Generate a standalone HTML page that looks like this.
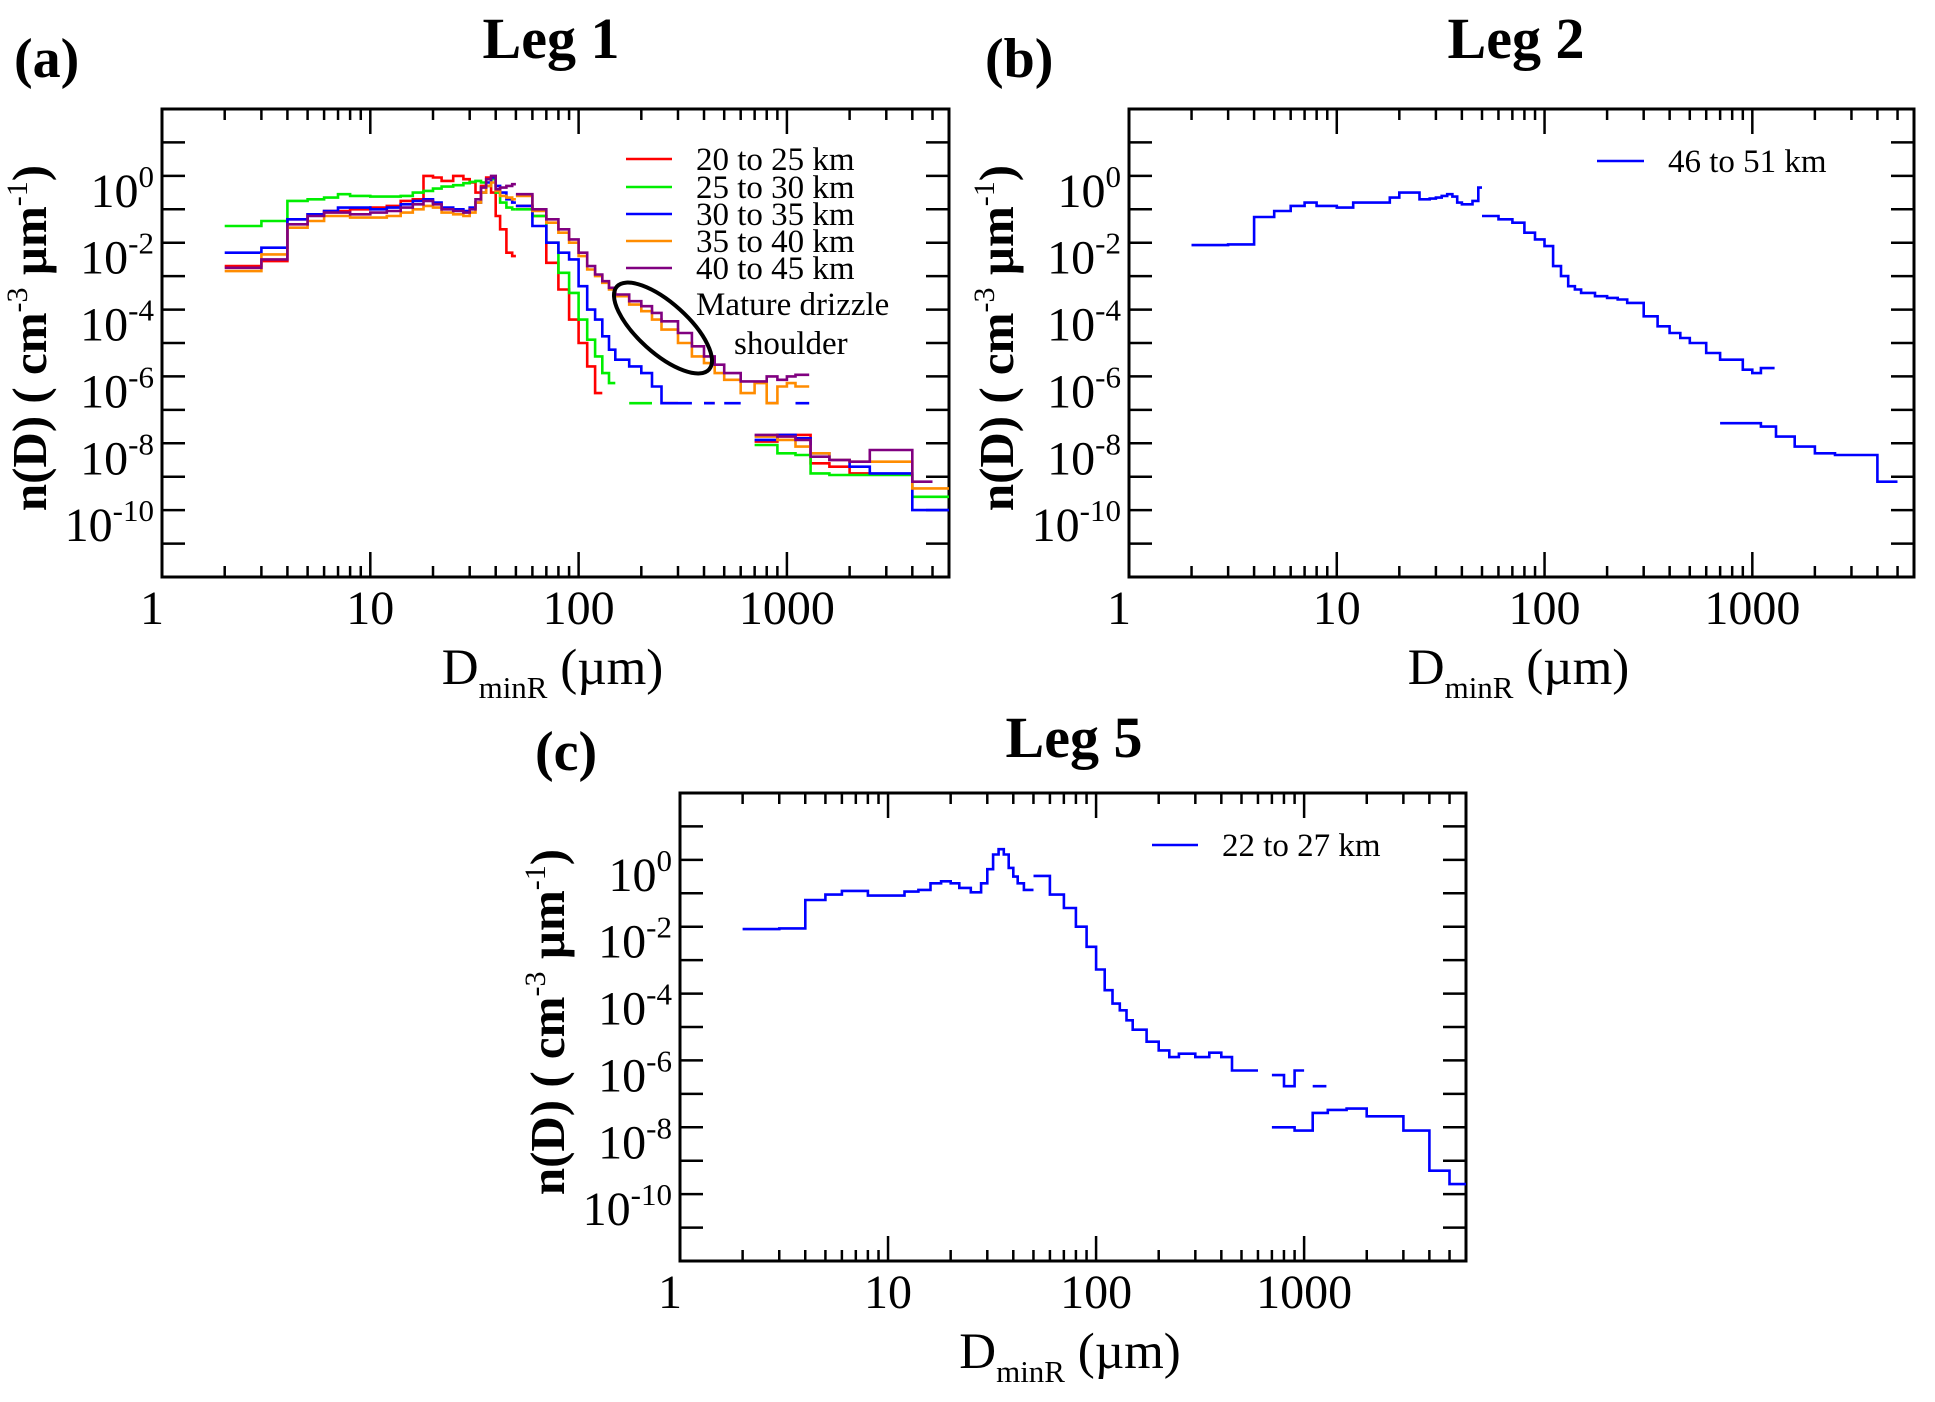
<!DOCTYPE html>
<html><head><meta charset="utf-8">
<style>
html,body{margin:0;padding:0;background:#fff;}
svg{display:block;font-family:"Liberation Serif",serif;}
</style></head>
<body>
<svg id="fig" width="1935" height="1402" viewBox="0 0 1935 1402" xmlns="http://www.w3.org/2000/svg"></svg>
<script>
// ---- bin edges (µm) ----
const cdpEdges = [2,3,4,5,6,7,8,10,12,14,16,18,20,22,25,28,30,32,34,36,38,40,42,45,48,50];
const twodsEdges = [50,60,70,80,90,100,110,120,130,140,150,175,200,225,250,300,350,400,450,500,600,700,800,900,1000,1100,1280];
const hvpsEdges = [700,900,1100,1300,1600,2000,2500,3000,4000,5000,6000];
// ---- axis ticks ----
const xTickLabels = ["1","10","100","1000"];
const yTickExps = [0,-2,-4,-6,-8,-10];
// ---- Leg 1 (log10 n) ----
const aLabels = ["20 to 25 km","25 to 30 km","30 to 35 km","35 to 40 km","40 to 45 km"];
const aRedCdp = [-2.7,-2.55,-1.3,-1.15,-1.05,-1.05,-1.0,-0.95,-0.9,-0.75,-0.7,0.0,-0.05,-0.15,0.0,-0.1,-0.2,-0.5,-0.3,-0.05,-0.5,-1.2,-1.6,-2.3,-2.4];
const aGreenCdp = [-1.5,-1.35,-0.75,-0.7,-0.65,-0.55,-0.6,-0.62,-0.62,-0.6,-0.5,-0.45,-0.38,-0.32,-0.28,-0.22,-0.18,-0.15,-0.2,-0.3,-0.1,-0.5,-0.8,-0.95,-1.0];
const aBlueCdp = [-2.3,-2.15,-1.3,-1.15,-1.05,-0.95,-0.95,-1.0,-0.95,-0.85,-0.75,-0.7,-0.8,-0.95,-1.0,-1.05,-0.95,-0.8,-0.5,-0.2,-0.05,-0.3,-0.5,-0.7,-0.8];
const aOrangeCdp = [-2.85,-2.35,-1.55,-1.35,-1.2,-1.2,-1.25,-1.25,-1.2,-1.1,-1.0,-0.9,-0.95,-1.1,-1.15,-1.2,-1.1,-0.8,-0.5,-0.3,-0.2,-0.45,-0.6,-0.65,-0.7];
const aPurpleCdp = [-2.75,-2.5,-1.45,-1.2,-1.1,-1.1,-1.15,-1.1,-1.05,-0.95,-0.85,-0.75,-0.85,-1.0,-1.05,-1.1,-1.0,-0.7,-0.35,-0.1,0.0,-0.4,-0.35,-0.3,-0.25];
const aRed2ds = [-0.9,-1.2,-2.6,-3.4,-4.3,-5.0,-5.7,-6.5,null,null,null,null,null,null,-6.8,null,null,-6.8,null,null,null,null,null,null,null,null];
const aGreen2ds = [-1.0,-1.2,-2.0,-2.9,-3.5,-4.3,-4.9,-5.4,-5.9,-6.2,null,-6.8,-6.8,null,null,null,null,null,null,null,null,null,null,null,null,null];
const aBlue2ds = [-0.9,-1.5,-2.0,-2.3,-2.5,-3.3,-4.0,-4.3,-4.8,-5.2,-5.5,-5.7,-5.9,-6.3,-6.8,-6.8,null,-6.8,null,-6.8,null,null,-6.8,null,null,-6.8];
const aOrange2ds = [-0.6,-1.05,-1.4,-1.7,-2.0,-2.4,-2.8,-3.0,-3.2,-3.4,-3.6,-3.85,-4.05,-4.3,-4.6,-5.0,-5.4,-5.6,-5.9,-6.1,-6.5,-6.2,-6.8,-6.3,-6.2,-6.3];
const aPurple2ds = [-0.55,-1.0,-1.3,-1.6,-1.9,-2.3,-2.7,-2.95,-3.15,-3.35,-3.55,-3.75,-3.9,-4.1,-4.35,-4.7,-5.1,-5.4,-5.65,-5.9,-6.15,-6.15,-6.0,-6.1,-6.0,-5.95];
const aRedHvps = [-7.95,-7.75,-7.75,-8.6,-8.7,-8.9,null,null,null,null];
const aGreenHvps = [-8.05,-8.3,-8.35,-8.9,-8.95,-8.95,-8.95,-8.95,-9.6,-9.6];
const aBlueHvps = [-7.9,-7.75,-7.85,-8.3,-8.5,-8.7,-8.9,-8.9,-10.0,-10.0];
const aOrangeHvps = [-7.8,-7.9,-8.1,-8.3,-8.5,-8.55,-8.55,-8.55,-9.35,-9.35];
const aPurpleHvps = [-7.75,-7.8,-7.9,-8.4,-8.5,-8.55,-8.2,-8.2,-9.15,null];
// ---- Leg 2 ----
const bCdp = [-2.07,-2.05,-1.23,-1.05,-0.9,-0.8,-0.9,-0.95,-0.8,-0.8,-0.8,-0.65,-0.5,-0.5,-0.7,-0.68,-0.65,-0.6,-0.55,-0.62,-0.8,-0.85,-0.85,-0.75,-0.35];
const b2ds = [-1.2,-1.3,-1.4,-1.7,-1.9,-2.1,-2.7,-3.0,-3.3,-3.4,-3.5,-3.6,-3.65,-3.7,-3.8,-4.2,-4.5,-4.7,-4.85,-5.0,-5.3,-5.5,-5.5,-5.8,-5.9,-5.75];
const bHvps = [-7.4,-7.4,-7.5,-7.8,-8.1,-8.3,-8.35,-8.35,-9.15,null];
// ---- Leg 5 ----
const cCdp = [-2.07,-2.05,-1.2,-1.04,-0.93,-0.93,-1.07,-1.07,-0.95,-0.9,-0.7,-0.64,-0.7,-0.84,-0.97,-0.7,-0.28,0.16,0.32,0.16,-0.24,-0.5,-0.7,-0.9,-0.9];
const c2ds = [-0.48,-1.04,-1.44,-2.0,-2.6,-3.28,-3.9,-4.3,-4.5,-4.8,-5.08,-5.44,-5.7,-5.9,-5.8,-5.9,-5.77,-5.9,-6.3,-6.3,null,-6.44,-6.77,-6.3,null,-6.77];
const cHvps = [-8.0,-8.1,-7.57,-7.48,-7.44,-7.67,-7.67,-8.1,-9.3,-9.7];

const NS = "http://www.w3.org/2000/svg";
const svg = document.getElementById('fig');
function mk(tag, attrs, parent){
  const e = document.createElementNS(NS, tag);
  for (const k in attrs) e.setAttribute(k, attrs[k]);
  (parent||svg).appendChild(e);
  return e;
}
function makeAxes(box){
  const xs = d => box.x0 + (Math.log10(d)) * (box.x1 - box.x0) / Math.log10(6000);
  const ys = l => box.y0 + (2 - l) * (box.y1 - box.y0) / 14;
  return {xs, ys};
}
function drawStep(g, ax, edges, vals, color, name){
  let d = "", prevY = null;
  for (let i = 0; i < vals.length; i++){
    const v = vals[i];
    if (v === null || v === undefined){ prevY = null; continue; }
    const xa = ax.xs(edges[i]), xb = ax.xs(edges[i+1]), y = ax.ys(v);
    if (prevY === null) d += "M" + xa.toFixed(1) + " " + y.toFixed(1);
    else d += "L" + xa.toFixed(1) + " " + y.toFixed(1);
    d += "L" + xb.toFixed(1) + " " + y.toFixed(1);
    prevY = y;
  }
  const p = mk('path', {d:d, fill:'none', stroke:color, 'stroke-width':2.6, 'stroke-linejoin':'miter'}, g);
  
  
}
function drawPanel(id, box, letter, letterX, letterY, title, titleX, titleY){
  const g = mk('g', {});
  
  
  const ax = makeAxes(box);
  const cp = mk('clipPath', {id: id + 'clip'}, g);
  mk('rect', {x:box.x0, y:box.y0, width:box.x1-box.x0, height:box.y1-box.y0}, cp);
  const tg = mk('g', {stroke:'#000','stroke-width':2.5}, g);
  
  
  for (let dec = 0; dec < 4; dec++){
    for (let m = 1; m <= 9; m++){
      const v = m * Math.pow(10, dec);
      if (v > 6000) continue;
      const x = ax.xs(v);
      const len = m === 1 ? 25 : 11;
      mk('line', {x1:x, y1:box.y1, x2:x, y2:box.y1-len}, tg);
      mk('line', {x1:x, y1:box.y0, x2:x, y2:box.y0+len}, tg);
    }
  }
  for (let e = 1; e >= -11; e--){
    const y = ax.ys(e);
    mk('line', {x1:box.x0, y1:y, x2:box.x0+23, y2:y}, tg);
    mk('line', {x1:box.x1, y1:y, x2:box.x1-23, y2:y}, tg);
  }
  const fr = mk('rect', {x:box.x0, y:box.y0, width:box.x1-box.x0, height:box.y1-box.y0, fill:'none', stroke:'#000', 'stroke-width':3}, g);
  
  
  xTickLabels.forEach((t, i) => {
    const x = ax.xs(Math.pow(10, i)) - (i === 0 ? 10 : 0);
    const el = mk('text', {x:x, y:box.y1+47, 'font-size':48, 'text-anchor':'middle'}, g);
    el.textContent = t;
    
    
  });
  yTickExps.forEach(e => {
    const y = ax.ys(e) + 31;
    const el = mk('text', {x:box.x0 - 8, y:y, 'font-size':48, 'text-anchor':'end'}, g);
    const base = mk('tspan', {}, el); base.textContent = "10";
    const sup = mk('tspan', {'font-size':31, dy:-20}, el); sup.textContent = String(e);
    
    
  });
  const yc = (box.y0 + box.y1)/2 - 5;
  const yx = box.x0 - 116;
  const yt = mk('text', {x:yx, y:yc, 'font-size':49, 'font-weight':'bold', 'text-anchor':'middle', transform:'rotate(-90 '+yx+' '+yc+')'}, g);
  
  
  let s = mk('tspan', {}, yt); s.textContent = "n(D) ( cm";
  s = mk('tspan', {'font-size':30, dy:-19, 'font-weight':'normal'}, yt); s.textContent = "-3";
  s = mk('tspan', {dy:19}, yt); s.textContent = " \u00b5m";
  s = mk('tspan', {'font-size':30, dy:-19, 'font-weight':'normal'}, yt); s.textContent = "-1";
  s = mk('tspan', {dy:19}, yt); s.textContent = ")";
  const xc = (box.x0 + box.x1)/2 - 3;
  const xt = mk('text', {x:xc, y:box.y1+107, 'font-size':51, 'text-anchor':'middle'}, g);
  
  
  s = mk('tspan', {}, xt); s.textContent = "D";
  s = mk('tspan', {'font-size':31, dy:14}, xt); s.textContent = "minR";
  s = mk('tspan', {dy:-14}, xt); s.textContent = " (\u00b5m)";
  const lt = mk('text', {x:letterX, y:letterY, 'font-size':56, 'font-weight':'bold'}, g);
  lt.textContent = letter;
  
  
  const tt = mk('text', {x:titleX, y:titleY, 'font-size':58, 'font-weight':'bold', 'text-anchor':'middle'}, g);
  tt.textContent = title;
  
  
  const sg = mk('g', {'clip-path':'url(#'+id+'clip)'}, g);
  
  
  return {ax, sg, g};
}
function legendEntry(g, x1, x2, y, color, label){
  const eg = mk('g', {}, g);
  
  
  mk('line', {x1:x1, y1:y, x2:x2, y2:y, stroke:color, 'stroke-width':2.6}, eg);
  const t = mk('text', {x:x2+24, y:y+11, 'font-size':33}, eg);
  t.textContent = label;
}

const A = drawPanel('leg1', {x0:162,x1:949,y0:109,y1:577}, '(a)', 14, 77, 'Leg 1', 551, 58);
const aColors = ['#ff0000','#00ee00','#0000ff','#ff8c00','#800080'];
const aCdp = [aRedCdp,aGreenCdp,aBlueCdp,aOrangeCdp,aPurpleCdp];
const a2ds = [aRed2ds,aGreen2ds,aBlue2ds,aOrange2ds,aPurple2ds];
const aHv = [aRedHvps,aGreenHvps,aBlueHvps,aOrangeHvps,aPurpleHvps];
const aNames = ['red','green','blue','orange','purple'];
for (let i = 0; i < 5; i++){
  drawStep(A.sg, A.ax, cdpEdges, aCdp[i], aColors[i], 'series-' + aNames[i] + '-cdp');
  drawStep(A.sg, A.ax, twodsEdges, a2ds[i], aColors[i], 'series-' + aNames[i] + '-2ds');
  drawStep(A.sg, A.ax, hvpsEdges, aHv[i], aColors[i], 'series-' + aNames[i] + '-hvps');
}
const aLegY = [159,187,214,241,268];
for (let i = 0; i < 5; i++) legendEntry(A.g, 626, 672, aLegY[i], aColors[i], aLabels[i]);
const ell = mk('ellipse', {cx:663, cy:328, rx:62, ry:25, fill:'none', stroke:'#000', 'stroke-width':4, transform:'rotate(42 663 328)'}, A.g);


const an1 = mk('text', {x:696, y:315, 'font-size':33}, A.g);
an1.textContent = 'Mature drizzle';


const an2 = mk('text', {x:734, y:354, 'font-size':33}, A.g);
an2.textContent = 'shoulder';



const B = drawPanel('leg2', {x0:1129,x1:1914,y0:109,y1:577}, '(b)', 985, 77, 'Leg 2', 1516, 58);
drawStep(B.sg, B.ax, cdpEdges, bCdp, '#0000ff', 'series-blue-cdp');
drawStep(B.sg, B.ax, twodsEdges, b2ds, '#0000ff', 'series-blue-2ds');
drawStep(B.sg, B.ax, hvpsEdges, bHvps, '#0000ff', 'series-blue-hvps');
legendEntry(B.g, 1597, 1644, 161, '#0000ff', '46 to 51 km');

const C = drawPanel('leg5', {x0:680,x1:1466,y0:793,y1:1261}, '(c)', 535, 770, 'Leg 5', 1074, 757);
drawStep(C.sg, C.ax, cdpEdges, cCdp, '#0000ff', 'series-blue-cdp');
drawStep(C.sg, C.ax, twodsEdges, c2ds, '#0000ff', 'series-blue-2ds');
drawStep(C.sg, C.ax, hvpsEdges, cHvps, '#0000ff', 'series-blue-hvps');
legendEntry(C.g, 1152, 1198, 845, '#0000ff', '22 to 27 km');
</script>
</body></html>
